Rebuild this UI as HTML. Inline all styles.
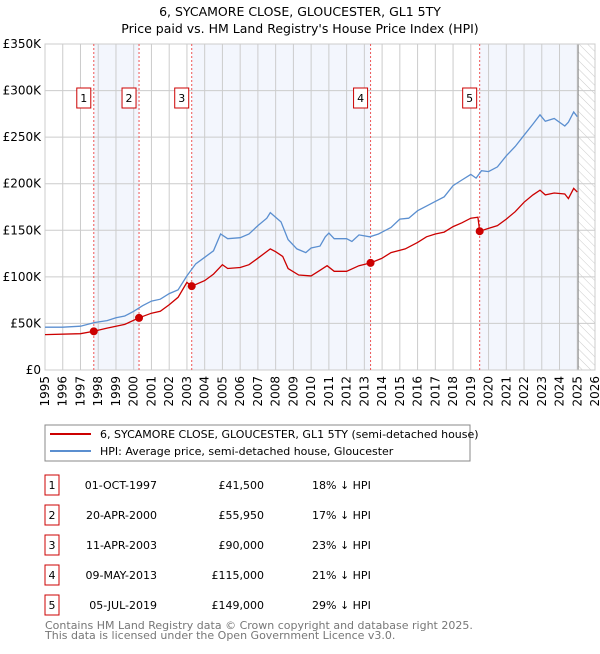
<!DOCTYPE html>
<html><head><meta charset="utf-8"><style>
body{margin:0;background:#fff;font-family:"DejaVu Sans","Liberation Sans",sans-serif;}
svg text{font-family:"DejaVu Sans","Liberation Sans",sans-serif;}
</style></head><body>
<svg id="c" width="600" height="650" xmlns="http://www.w3.org/2000/svg">
<text x="300" y="16" text-anchor="middle" font-size="12.5">6, SYCAMORE CLOSE, GLOUCESTER, GL1 5TY</text>
<text x="300" y="33" text-anchor="middle" font-size="12.5">Price paid vs. HM Land Registry's House Price Index (HPI)</text>
<defs><pattern id="hatch" width="6" height="6" patternUnits="userSpaceOnUse" patternTransform="rotate(-45)"><line x1="0" y1="0" x2="0" y2="6" stroke="#ccc" stroke-width="1"/></pattern></defs>
<g id="plot"></g>
<g>
<rect x="45" y="425" width="425" height="36" fill="#fff" stroke="#888"/>
<line x1="50" y1="434" x2="91" y2="434" stroke="#cc0000" stroke-width="2"/>
<text x="100" y="438" font-size="11">6, SYCAMORE CLOSE, GLOUCESTER, GL1 5TY (semi-detached house)</text>
<line x1="50" y1="451" x2="91" y2="451" stroke="#5b8fd0" stroke-width="2"/>
<text x="100" y="455" font-size="11">HPI: Average price, semi-detached house, Gloucester</text>
</g>
<g id="table"></g>
<text x="45" y="629" font-size="11" fill="#777">Contains HM Land Registry data © Crown copyright and database right 2025.</text>
<text x="45" y="639" font-size="11" fill="#777">This data is licensed under the Open Government Licence v3.0.</text>
</svg>
<script>
const hpiYears=[1995,1996,1997,1997.8,1998.5,1999,1999.5,2000,2000.5,2001,2001.5,2002,2002.5,2003,2003.5,2004,2004.5,2004.9,2005.3,2006,2006.5,2007,2007.5,2007.7,2008,2008.3,2008.7,2009.2,2009.7,2010,2010.5,2010.8,2011,2011.3,2012,2012.3,2012.7,2013.3,2013.8,2014.5,2015,2015.5,2016,2016.5,2017,2017.5,2018,2018.5,2019,2019.3,2019.6,2020,2020.5,2021,2021.5,2022,2022.5,2022.9,2023.2,2023.7,2024.3,2024.5,2024.8,2025];
const hpiValues=[46,46,47,51,53,56,58,63,69,74,76,82,86,101,114,121,128,146,141,142,146,155,163,169,164,159,140,130,126,131,133,143,147,141,141,138,145,143,146,153,162,163,171,176,181,186,198,204,210,206,214,213,218,230,240,252,264,274,267,270,262,266,277,272];
const propYears=[1995,1997,1997.75,1998.5,1999.5,2000.3,2001,2001.5,2002,2002.5,2003,2003.27,2004,2004.5,2005,2005.3,2006,2006.5,2007,2007.7,2008,2008.4,2008.7,2009.3,2010,2010.5,2010.9,2011.3,2012,2012.7,2013.35,2014,2014.5,2015.3,2016,2016.5,2017,2017.5,2018,2018.5,2019,2019.4,2019.5,2020,2020.5,2021,2021.5,2022,2022.5,2022.9,2023.2,2023.7,2024.3,2024.5,2024.8,2025];
const propValues=[38,39,41.5,45,49,56,61,63,70,78,94,90,96,103,113,109,110,113,120,130,127,122,109,102,101,107,112,106,106,112,115,120,126,130,137,143,146,148,154,158,163,164,149,152,155,162,170,180,188,193,188,190,189,184,195,191];
const saleLabels=["1","2","3","4","5"];
const saleYears=[1997.75,2000.3,2003.27,2013.35,2019.5];
const saleValues=[41.5,55.95,90,115,149];
const saleDates=["01-OCT-1997","20-APR-2000","11-APR-2003","09-MAY-2013","05-JUL-2019"];
const salePrices=["£41,500","£55,950","£90,000","£115,000","£149,000"];
const saleDiffs=["18% ↓ HPI","17% ↓ HPI","23% ↓ HPI","21% ↓ HPI","29% ↓ HPI"];
const yTicks=[0,50,100,150,200,250,300,350];
const yTickLabels=["£0","£50K","£100K","£150K","£200K","£250K","£300K","£350K"];
const xTicks=[1995,1996,1997,1998,1999,2000,2001,2002,2003,2004,2005,2006,2007,2008,2009,2010,2011,2012,2013,2014,2015,2016,2017,2018,2019,2020,2021,2022,2023,2024,2025,2026];

const X0=45,X1=595,Y0=370,Y1=44;
const x=t=>X0+(t-1995)/(2026-1995)*(X1-X0);
const y=v=>Y0-v/350*(Y0-Y1);
const NS="http://www.w3.org/2000/svg";
const plot=document.getElementById('plot');
function mk(tag,attrs,parent){const e=document.createElementNS(NS,tag);for(const k in attrs)e.setAttribute(k,attrs[k]);(parent||plot).appendChild(e);return e;}

for(let i=0;i<saleYears.length;i+=2){
  const a=saleYears[i],b=i+1<saleYears.length?saleYears[i+1]:2025.05;
  const r=mk('rect',{x:x(a),y:Y1,width:x(b)-x(a),height:Y0-Y1,fill:'#f3f6fd'});
  
  
}
const hr=mk('rect',{x:x(2025.05),y:Y1,width:X1-x(2025.05),height:Y0-Y1,fill:'url(#hatch)'});


xTicks.forEach(t=>{
  const l=mk('line',{x1:x(t),x2:x(t),y1:Y1,y2:Y0,stroke:'#ccc','stroke-width':1});
  
  
  const tx=mk('text',{x:0,y:0,'font-size':12,'text-anchor':'end',transform:`translate(${x(t)+4},${Y0+6}) rotate(-90)`});
  tx.textContent=t;
  
  
});
yTicks.forEach((v,i)=>{
  const l=mk('line',{x1:X0,x2:X1,y1:y(v),y2:y(v),stroke:'#ccc','stroke-width':1});
  
  
  const tx=mk('text',{x:X0-4,y:y(v)+4,'font-size':12,'text-anchor':'end'});
  tx.textContent=yTickLabels[i];
  
  
});
const fl=mk('line',{x1:x(2025.05),x2:x(2025.05),y1:Y1,y2:Y0,stroke:'#888','stroke-width':1});


const fr=mk('rect',{x:X0,y:Y1,width:X1-X0,height:Y0-Y1,fill:'none',stroke:'#ccc'});


saleYears.forEach((t,i)=>{
  const l=mk('line',{x1:x(t),x2:x(t),y1:Y1,y2:Y0,stroke:'#e55','stroke-width':1,'stroke-dasharray':'2,2'});
  
  
  const b=mk('rect',{x:x(t)-17,y:88,width:14,height:20,fill:'#fff',stroke:'#cc0000'});
  
  
  const tx=mk('text',{x:x(t)-10,y:102,'font-size':11,'text-anchor':'middle'});
  tx.textContent=saleLabels[i];
  
  
});
function pts(xs,vs){return xs.map((t,i)=>x(t).toFixed(1)+','+y(vs[i]).toFixed(1)).join(' ');}
const hl=mk('polyline',{points:pts(hpiYears,hpiValues),fill:'none',stroke:'#5b8fd0','stroke-width':1.3});


const pl=mk('polyline',{points:pts(propYears,propValues),fill:'none',stroke:'#cc0000','stroke-width':1.3});


saleYears.forEach((t,i)=>{
  const c=mk('circle',{cx:x(t),cy:y(saleValues[i]),r:4,fill:'#cc0000'});
  
  
});
const tb=document.getElementById('table');
saleLabels.forEach((s,i)=>{
  const cy=485+i*30;
  const b=mk('rect',{x:45,y:cy-10,width:14,height:20,fill:'#fff',stroke:'#cc0000'},tb);
  
  
  const cells=[[52,'middle',s,'table-row-number'],[157,'end',saleDates[i],'table-date'],[264,'end',salePrices[i],'table-price'],[312,'start',saleDiffs[i],'table-hpi-diff']];
  cells.forEach(c=>{
    const tx=mk('text',{x:c[0],y:cy+4,'font-size':11,'text-anchor':c[1]},tb);
    tx.textContent=c[2];
    
    
  });
});
</script>
</body></html>
